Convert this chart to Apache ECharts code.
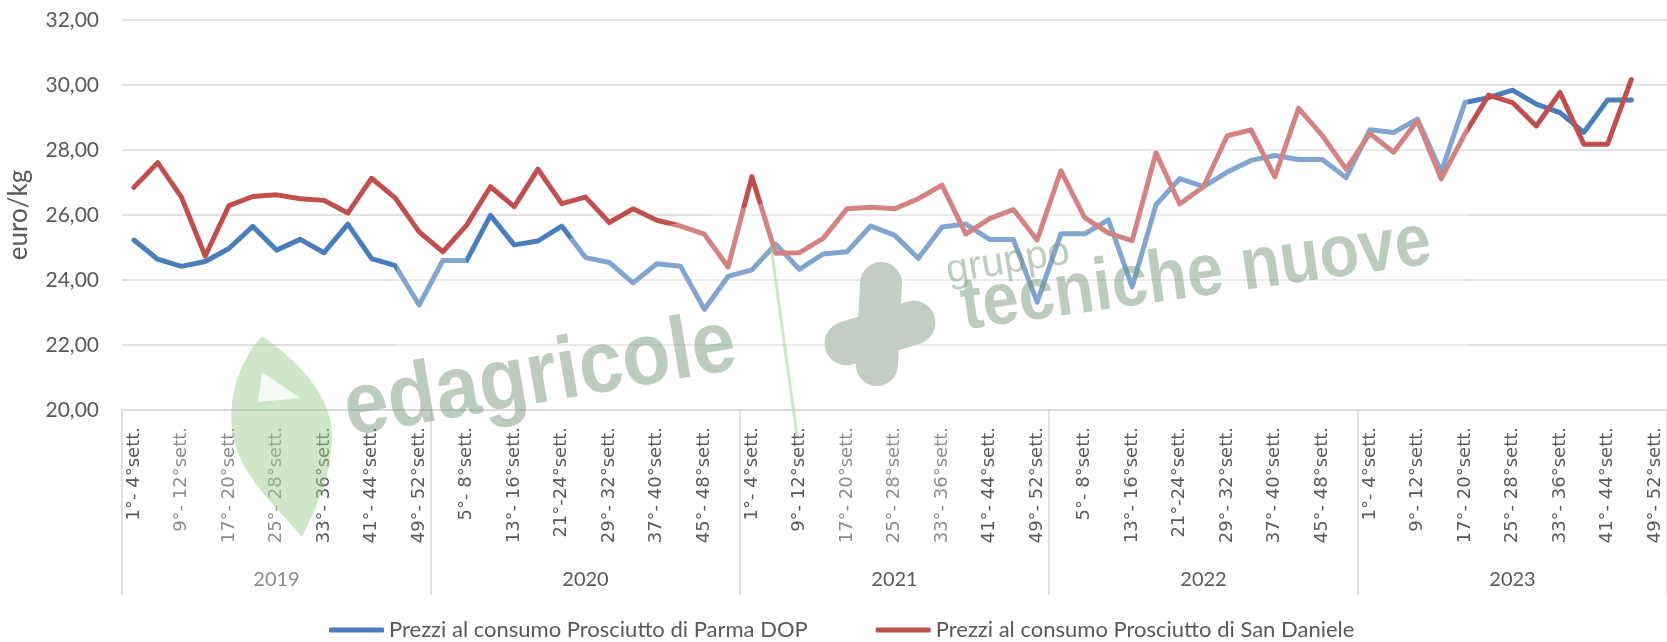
<!DOCTYPE html>
<html>
<head>
<meta charset="utf-8">
<script src="https://cdn.jsdelivr.net/npm/echarts@6/dist/echarts.min.js"></script>
<style>
html,body{margin:0;padding:0;background:#fff;}
#c{width:1667px;height:642px;}
</style>
</head>
<body>
<div id="c"></div>
<script>
const years = ['2019', '2020', '2021', '2022', '2023'];
const periods = ['1°- 4°sett.', '5°- 8°sett.', '9°- 12°sett.', '13°- 16°sett.', '17°- 20°sett.',
  '21°-24°sett.', '25°- 28°sett.', '29°- 32°sett.', '33°- 36°sett.', '37°- 40°sett.',
  '41°- 44°sett.', '45°- 48°sett.', '49°- 52°sett.'];
const yTicks = [20, 22, 24, 26, 28, 30, 32];
const seriesNames = ['Prezzi al consumo Prosciutto di Parma DOP', 'Prezzi al consumo Prosciutto di San Daniele'];

const parma = [
  25.23, 24.64, 24.42, 24.57, 24.97, 25.65, 24.92, 25.25, 24.84, 25.72, 24.66, 24.44, 23.23,
  24.60, 24.60, 25.99, 25.08, 25.20, 25.66, 24.69, 24.54, 23.91, 24.50, 24.42, 23.10, 24.11,
  24.31, 25.10, 24.33, 24.80, 24.87, 25.66, 25.38, 24.67, 25.63, 25.72, 25.25, 25.25, 23.32,
  25.42, 25.42, 25.85, 23.79, 26.31, 27.12, 26.87, 27.32, 27.68, 27.83, 27.71, 27.71, 27.15,
  28.62, 28.54, 28.95, 27.32, 29.46, 29.61, 29.84, 29.41, 29.15, 28.54, 29.54, 29.54, null
];
const sanDaniele = [
  26.85, 27.61, 26.55, 24.74, 26.29, 26.57, 26.62, 26.50, 26.45, 26.06, 27.13, 26.52, 25.48,
  24.87, 25.69, 26.87, 26.26, 27.41, 26.35, 26.55, 25.77, 26.19, 25.84, 25.66, 25.41, 24.40,
  27.18, 24.82, 24.84, 25.28, 26.19, 26.24, 26.19, 26.50, 26.92, 25.41, 25.89, 26.17, 25.23,
  27.36, 25.92, 25.44, 25.21, 27.91, 26.34, 26.87, 28.44, 28.62, 27.17, 29.28, 28.44, 27.41,
  28.51, 27.93, 28.90, 27.11, 28.50, 29.69, 29.46, 28.74, 29.77, 28.18, 28.18, 30.17, null
];

const categories = [];
years.forEach(function () { periods.forEach(function (p) { categories.push(p); }); });

// decorative watermark helpers (not data)
function bez(p0, p1, p2, p3, n) {
  const out = [];
  for (let i = 0; i <= n; i++) {
    const t = i / n, u = 1 - t;
    out.push([u*u*u*p0[0] + 3*u*u*t*p1[0] + 3*u*t*t*p2[0] + t*t*t*p3[0],
              u*u*u*p0[1] + 3*u*u*t*p1[1] + 3*u*t*t*p2[1] + t*t*t*p3[1]]);
  }
  return out;
}
const leafPts = [].concat(
  bez([262,336],[300,362],[334,398],[332,440],12),
  bez([332,440],[330,480],[315,510],[302,537],12),
  bez([302,537],[270,500],[236,470],[232,430],12),
  bez([232,430],[228,395],[240,360],[262,336],12)
);

const wm = 'rgba(115,148,120,0.48)';
const wmSolid = '#c2cec3';
const veil = 'rgba(255,255,255,0.3)';
const leaf = 'rgba(160,205,145,0.5)';
const textStyleWm = function (txt, font) {
  return {text: txt, font: font, fill: wm, align: 'center', verticalAlign: 'middle',
    textAlign: 'center', textVerticalAlign: 'middle'};
};

const chart = echarts.init(document.getElementById('c'), null, {renderer: 'canvas'});
chart.setOption({
  animation: false,
  backgroundColor: '#ffffff',
  grid: {left: 122, right: 0, top: 20, bottom: 232, containLabel: false, outerBoundsMode: 'none'},
  legend: {
    data: seriesNames,
    left: 324, top: 614,
    icon: 'roundRect',
    itemWidth: 55, itemHeight: 5, itemGap: 68,
    textStyle: {fontFamily: 'Lato', fontSize: 22, color: '#595959'}
  },
  xAxis: [{
    type: 'category',
    data: categories,
    boundaryGap: true,
    axisLine: {lineStyle: {color: '#d9d9d9', width: 1.5}},
    axisTick: {show: false},
    axisLabel: {interval: 1, rotate: 90, margin: 17, color: '#595959', fontFamily: 'DejaVu Sans', fontSize: 18}
  }, {
    type: 'category',
    data: years,
    position: 'bottom',
    boundaryGap: true,
    axisLine: {show: false},
    axisTick: {show: true, interval: 0, length: 185, lineStyle: {color: '#d9d9d9', width: 1.5}},
    axisLabel: {interval: 0, margin: 160, color: '#595959', fontFamily: 'Lato', fontSize: 20},
    splitLine: {show: false}
  }],
  yAxis: {
    type: 'value',
    min: yTicks[0], max: yTicks[yTicks.length - 1], interval: 2,
    name: 'euro/kg', nameLocation: 'middle', nameGap: 90, nameRotate: 90,
    nameTextStyle: {fontFamily: 'Lato', fontSize: 26, color: '#595959'},
    axisLine: {show: false}, axisTick: {show: false},
    axisLabel: {margin: 23, color: '#595959', fontFamily: 'Lato', fontSize: 21,
      formatter: function (v) { return v.toFixed(2).replace('.', ','); }},
    splitLine: {lineStyle: {color: '#d9d9d9', width: 1.5}}
  },
  series: [{
    name: seriesNames[0], type: 'line', data: parma, symbol: 'none', xAxisIndex: 0,
    itemStyle: {color: '#4a7ebb'},
    lineStyle: {color: '#4a7ebb', width: 5, cap: 'round', join: 'round'}
  }, {
    name: seriesNames[1], type: 'line', data: sanDaniele, symbol: 'none', xAxisIndex: 0,
    itemStyle: {color: '#c0504d'},
    lineStyle: {color: '#c0504d', width: 5, cap: 'round', join: 'round'}
  }],
  graphic: [
    {type: 'polygon', z: 100, silent: true,
      shape: {points: [[397,258],[466,258],[466,266],[570,266],[570,238],[665,226],[760,204],[1300,106],[1468,86],[1468,400],[397,400]]},
      style: {fill: veil}},
    {type: 'rect', z: 100, silent: true, shape: {x: 170, y: 415, width: 130, height: 185}, style: {fill: veil}},
    {type: 'rect', z: 100, silent: true, shape: {x: 835, y: 415, width: 140, height: 135}, style: {fill: veil}},
    {type: 'polygon', z: 101, silent: true, shape: {points: leafPts}, style: {fill: leaf}},
    {type: 'polygon', z: 101, silent: true, shape: {points: [[262,372],[258,402],[300,398]]}, style: {fill: 'rgba(255,255,255,0.8)'}},
    {type: 'line', z: 101, silent: true, shape: {x1: 771, y1: 246, x2: 797, y2: 436},
      style: {stroke: leaf, lineWidth: 3}},
    {type: 'rect', z: 101, silent: true, x: 879, y: 324, rotation: -0.05,
      shape: {x: -21, y: -62, width: 42, height: 124, r: 21}, style: {fill: wmSolid}},
    {type: 'rect', z: 101, silent: true, x: 880, y: 333, rotation: 0.3,
      shape: {x: -57, y: -22, width: 114, height: 44, r: 22}, style: {fill: wmSolid}},
    {type: 'text', z: 102, silent: true, x: 540, y: 378, rotation: 0.17, scaleX: 0.9,
      style: textStyleWm('edagricole', 'bold 88px "Liberation Sans", Arial, sans-serif')},
    {type: 'text', z: 102, silent: true, x: 1008, y: 262, rotation: 0.16,
      style: textStyleWm('gruppo', '40px "Liberation Sans", Arial, sans-serif')},
    {type: 'text', z: 102, silent: true, x: 1196, y: 276, rotation: 0.14, scaleX: 0.88,
      style: textStyleWm('tecniche nuove', 'bold 74px "Liberation Sans", Arial, sans-serif')}
  ]
});
</script>
</body>
</html>
